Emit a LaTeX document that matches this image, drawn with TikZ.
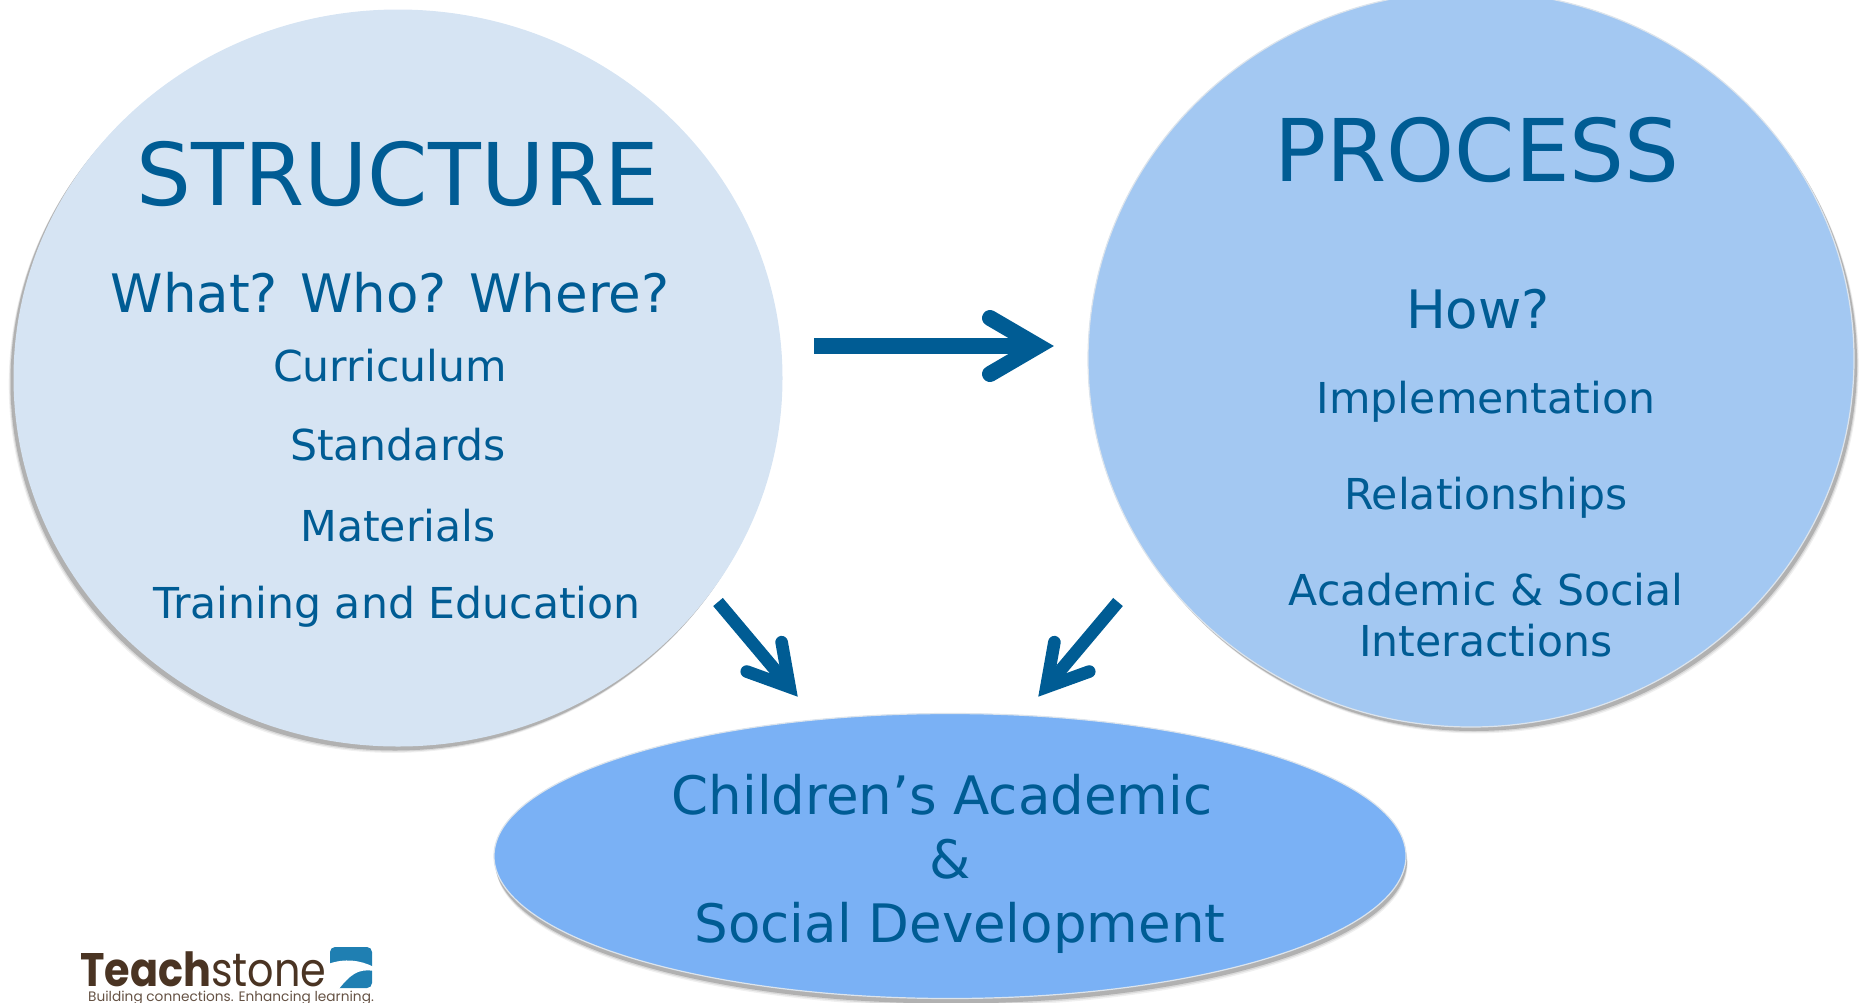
\documentclass[tikz,border=0pt]{standalone}
\usepackage{fontspec}
\setmainfont{DejaVu Sans}
\newfontfamily\logofont{Poppins}
\usetikzlibrary{shapes.geometric,shadows}
\definecolor{inkblue}{HTML}{005C94}
\definecolor{paleblue}{HTML}{D6E4F3}
\definecolor{midblue}{HTML}{A3C8F2}
\definecolor{deepblue}{HTML}{7AB1F5}
\definecolor{logobrown}{HTML}{4A3423}
\definecolor{logoblue}{HTML}{1F7FB2}
\definecolor{rimgrey}{HTML}{DCE4EC}
\pgfarrowsdeclare{barbhead}{barbhead}
{\pgfarrowsleftextend{-48pt}\pgfarrowsrightextend{16pt}}
{\pgfsetlinewidth{16pt}\pgfsetroundcap\pgfsetmiterjoin
 \pgfpathmoveto{\pgfpoint{-48pt}{28pt}}
 \pgfpathlineto{\pgfpoint{0pt}{0pt}}
 \pgfpathlineto{\pgfpoint{-48pt}{-28pt}}
 \pgfusepathqstroke}
\pgfarrowsdeclare{barbheadsm}{barbheadsm}
{\pgfarrowsleftextend{-39.5pt}\pgfarrowsrightextend{13pt}}
{\pgfsetlinewidth{12.6pt}\pgfsetroundcap\pgfsetmiterjoin
 \pgfpathmoveto{\pgfpoint{-39.5pt}{22.8pt}}
 \pgfpathlineto{\pgfpoint{0pt}{0pt}}
 \pgfpathlineto{\pgfpoint{-39.5pt}{-22.8pt}}
 \pgfusepathqstroke}
\tikzset{
  blob/.style={ellipse, inner sep=0pt, draw=none},
  softshadow/.style 2 args={
    drop shadow={shadow xshift=1.6*#1, shadow yshift=1.6*#2, opacity=0.12},
    drop shadow={shadow xshift=1.3*#1, shadow yshift=1.3*#2, opacity=0.2},
    drop shadow={shadow xshift=#1, shadow yshift=#2, opacity=0.45}},
  big/.style={anchor=base, text=inkblue, font=\fontsize{86.5}{86.5}\selectfont},
  mid/.style={anchor=base, text=inkblue, font=\fontsize{53}{53}\selectfont},
  small/.style={anchor=base, text=inkblue, font=\fontsize{42.6}{42.6}\selectfont},
  flow/.style={draw=inkblue, line width=16pt, -barbhead},
  flowsm/.style={draw=inkblue, line width=12.6pt, -barbheadsm},
}
\begin{document}
\begin{tikzpicture}[x=1pt,y=-1pt]
\clip (0,0) rectangle (1862,1002);
\useasboundingbox (0,0) rectangle (1862,1002);
\node[blob, fill=paleblue, minimum width=769pt, minimum height=737pt, softshadow={-3pt}{-4pt}] (structure) at (398,378){};
\node[blob, fill=midblue, draw=rimgrey, line width=1.2pt, minimum width=766pt, minimum height=736pt, softshadow={3pt}{-4pt}] (process) at (1471,359){};
\node[blob, fill=deepblue, draw=rimgrey, line width=1.2pt, minimum width=912pt, minimum height=285pt, softshadow={1pt}{-5pt}] (outcome) at (950,856){};
% structure side
\node[big] (stitle) at (398,205){STRUCTURE};
\node[mid] (sask) at (390,312){What? Who? Where?};
\node[small] (s0) at (390,381){Curriculum};
\node[small] (s1) at (398,460){Standards};
\node[small] (s2) at (398,541){Materials};
\node[small] (s3) at (397,618){Training and Education};
% process side
\node[big] (ptitle) at (1477,181){PROCESS};
\node[mid] (pask) at (1478,328){How?};
\node[small] (p0) at (1486,413){Implementation};
\node[small] (p1) at (1486,509){Relationships};
\node[small] (p2) at (1486,605){Academic \& Social};
\node[small] (p3) at (1486,656){Interactions};
% outcome
\node[mid] (o0) at (942,814){Children’s Academic};
\node[mid] (o1) at (950,878){\&};
\node[mid] (o2) at (960,942){Social Development};
% arrows
\coordinate (a0) at (814,346);
\coordinate (a1) at (1054,346);
\coordinate (b0) at (718,602);
\coordinate (b1) at (798,697);
\coordinate (c0) at (1118,602);
\coordinate (c1) at (1038,697);
\draw[flow](a0) -- (a1);
\draw[flowsm](b0) -- (b1);
\draw[flowsm](c0) -- (c1);
% logo
\node[anchor=base west, inner sep=0pt, text=logobrown, xscale=0.88, font=\logofont\fontsize{47}{47}\selectfont] (logo) at (80,986){\textbf{Teach}stone};
\node[anchor=base west, inner sep=0pt, text=logobrown!85, font=\logofont\fontsize{13.7}{14}\selectfont] (tagline) at (88,1001){Building connections. Enhancing learning.};
\fill[logoblue, rounded corners=5pt] (330,947) rectangle (372,988);
\fill[white] (328,964) .. controls (345,958) and (360,960) .. (374,967) -- (374,971) .. controls (358,968) and (350,975) .. (338,990) -- (328,990) -- cycle;
\end{tikzpicture}
\end{document}
